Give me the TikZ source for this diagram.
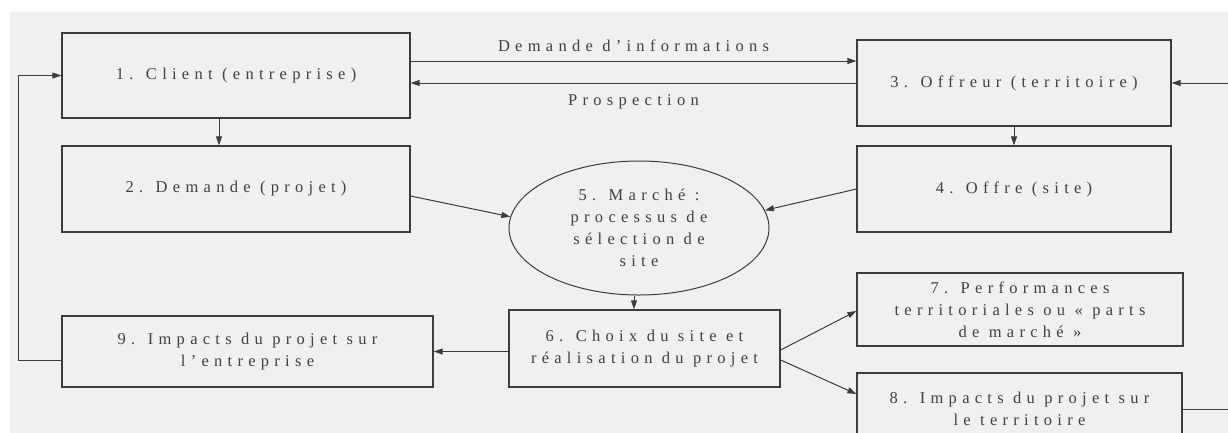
\documentclass[tikz,border=0pt]{standalone}
\usepackage{fontspec}
\setmainfont{Liberation Serif}[LetterSpace=32]
\usepackage{tikz}
\usetikzlibrary{arrows.meta,shapes.geometric}
\definecolor{paperGrey}{HTML}{F0F0F0}
\definecolor{lineGrey}{HTML}{3C3C3C}
\definecolor{textGrey}{HTML}{404040}

\begin{document}
\begin{tikzpicture}[x=1pt,y=-1pt,
  boxnode/.style={draw=lineGrey, line width=1.3pt, fill=paperGrey, align=center,
    inner sep=0pt, text=textGrey, font=\fontsize{16.5}{22}\selectfont},
  flow/.style={draw=lineGrey, line width=1pt, -{Triangle[length=9pt,width=6pt]}},
  flowlabel/.style={text=textGrey, font=\fontsize{16.5}{22}\selectfont}]
  \useasboundingbox (0,0) rectangle (1228,432);
  \clip (0,0) rectangle (1228,432);
  \fill[paperGrey] (10,12) rectangle (1240,440);

  % upper row
  \node[boxnode, minimum width=348pt, minimum height=85pt] (client) at (236,75.5) {1. Client (entreprise)};
  \node[boxnode, minimum width=348pt, minimum height=86pt] (demande) at (236,189) {2. Demande (projet)};
  \node[boxnode, minimum width=314pt, minimum height=86pt] (offreur) at (1014,83) {3. Offreur (territoire)};
  \node[boxnode, minimum width=314pt, minimum height=86pt] (offre) at (1014,189) {4. Offre (site)};

  % market
  \node[boxnode, ellipse, line width=1pt, minimum width=260pt, minimum height=134pt] (marche) at (639,228)
    {5. Marché :\\processus de\\sélection de\\site};

  % lower row
  \node[boxnode, minimum width=271pt, minimum height=77pt] (choix) at (644.5,348.5)
    {6. Choix du site et\\réalisation du projet};
  \node[boxnode, minimum width=371pt, minimum height=71pt] (impactsEnt) at (247.5,351.5)
    {9. Impacts du projet sur\\l'entreprise};
  \node[boxnode, minimum width=326pt, minimum height=73pt] (perf) at (1020,309.5)
    {7. Performances\\territoriales ou « parts\\de marché »};
  \node[boxnode, minimum width=325pt, minimum height=72pt] (impactsTer) at (1019.5,409)
    {8. Impacts du projet sur\\le territoire};

  % connectors
  \draw[flow] ([yshift=14.5pt]client.east) -- ([yshift=22pt]offreur.west)
    node[flowlabel, midway, above=6pt] {Demande d'informations};
  \draw[flow] (offreur.west) -- ([yshift=-7.5pt]client.east)
    node[flowlabel, midway, below=8pt] {Prospection};
  \draw[flow] ([xshift=-17pt]client.south) -- ([xshift=-17pt]demande.north);
  \draw[flow] (offreur.south) -- (offre.north);
  \draw[flow] ([yshift=-7pt]demande.east) -- (marche.175);
  \draw[flow] (offre.west) -- (marche.8);
  \draw[flow] ([xshift=-5pt]marche.south) -- ([xshift=-5pt]marche.south |- choix.north);
  \draw[flow] ([yshift=-3pt]choix.west) -- (impactsEnt.east);
  \draw[flow] ([yshift=-1.5pt]choix.east) -- ([yshift=-1.5pt]perf.west);
  \draw[flow] ([yshift=-11.5pt]choix.east) -- ([yshift=15pt]impactsTer.west);
  \draw[flow] ([yshift=-8.5pt]impactsEnt.west) -- ++(-43,0) |- (client.west);
  \draw[flow] (impactsTer.east) -- ++(80,0) |- (offreur.east);
\end{tikzpicture}
\end{document}
